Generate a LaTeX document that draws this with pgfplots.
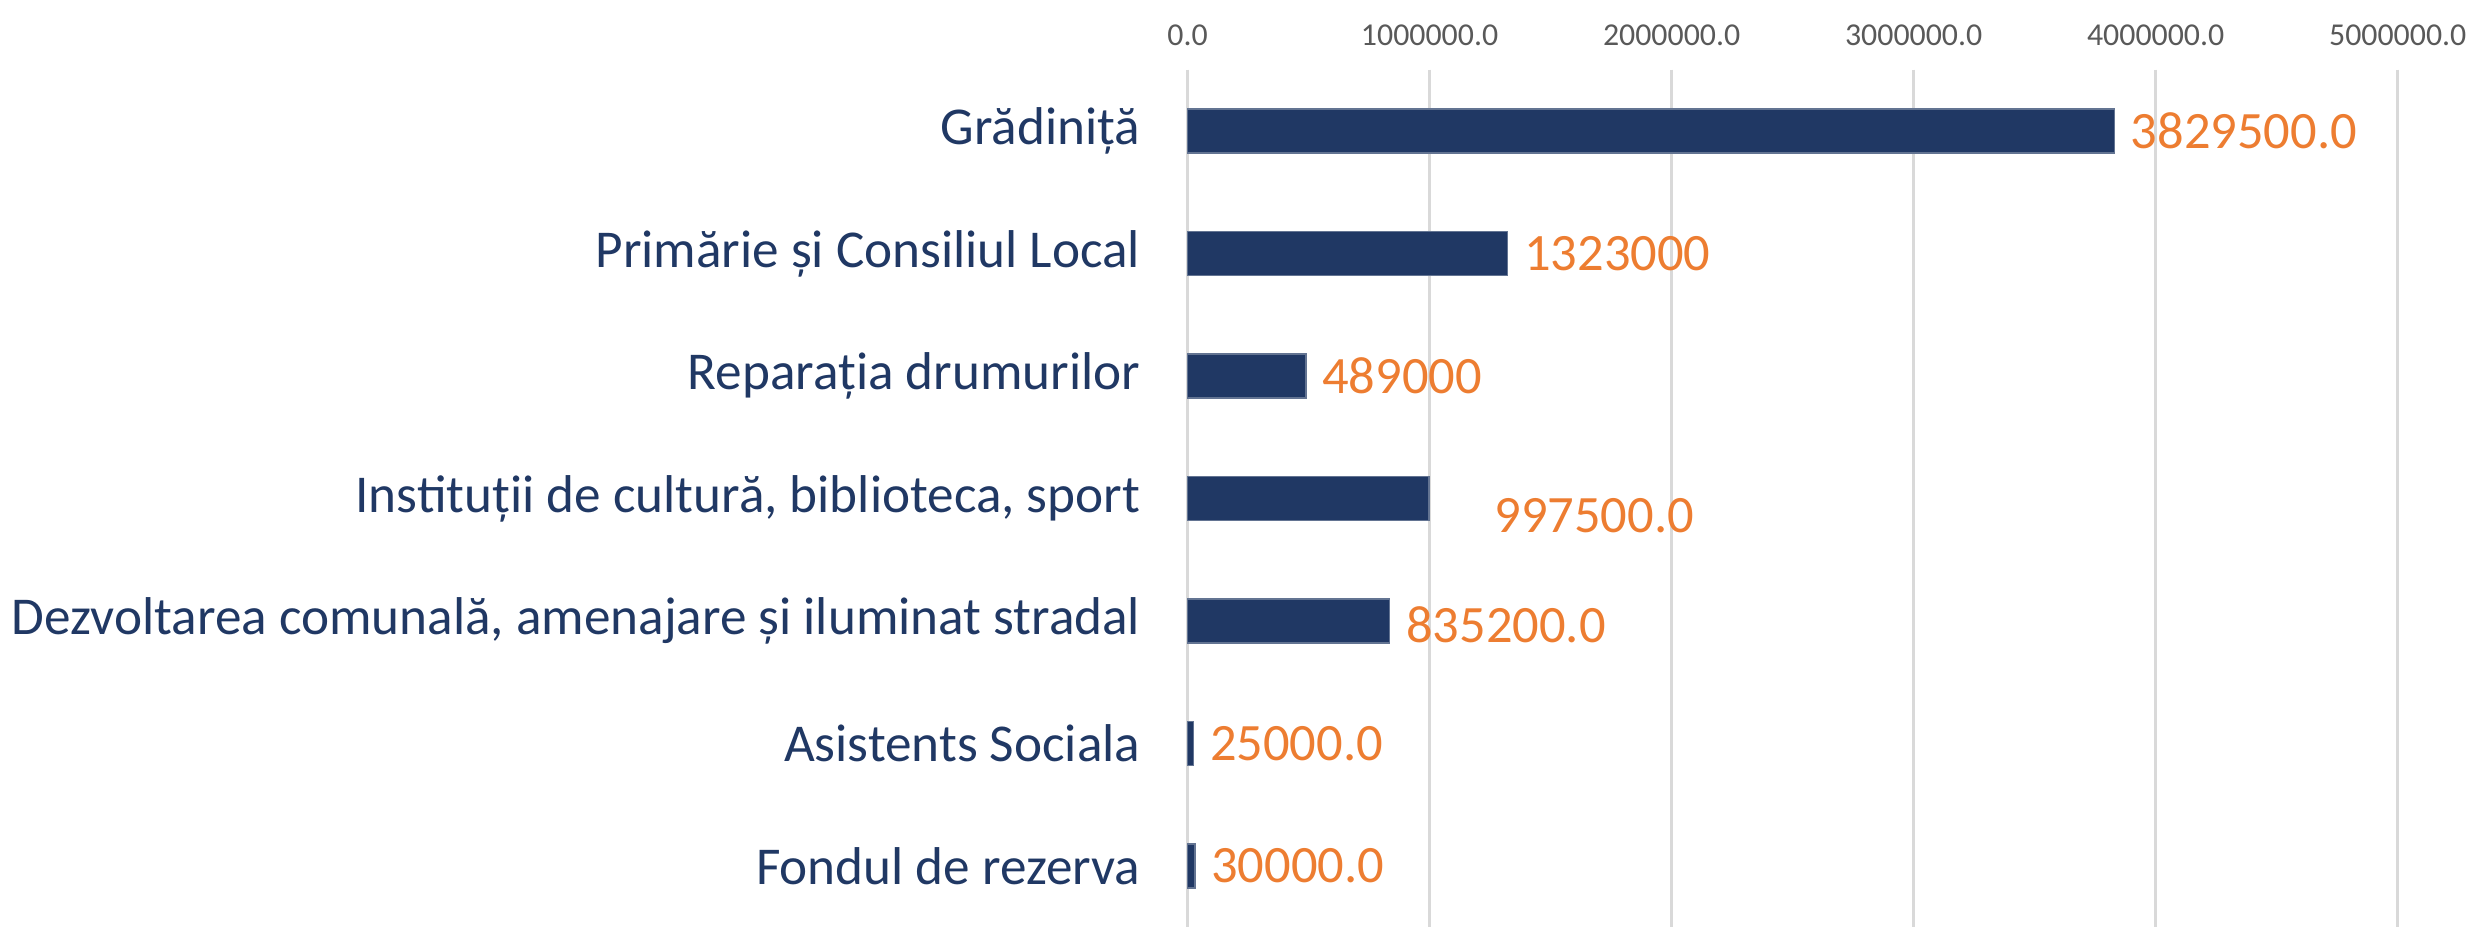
\documentclass[border=0pt]{standalone}
\usepackage{fontspec}
\setmainfont{Carlito}
\usepackage{pgfplots}
\usepackage{pgfplotstable}
\pgfplotsset{compat=1.18}
\definecolor{barnavy}{HTML}{203864}
\definecolor{lblorange}{HTML}{ED7D31}
\definecolor{tickgray}{HTML}{595959}
\definecolor{gridgray}{HTML}{D9D9D9}

% dx, dy in pt: manual label offsets as in the source chart
\pgfplotstableread{
y x lab dx dy
0 3829500 3829500.0 0 0
1 1323000 1323000 0 0
2 489000 489000 0 0
3 997500 997500.0 14 -5
4 835200 835200.0 0 -1
5 25000 25000.0 0 0
6 30000 30000.0 0 0
}\budget

\begin{document}
\begin{tikzpicture}
\begin{axis}[
  name=ax,
  scale only axis,
  width=12.15cm, height=8.61cm,
  xmin=0, xmax=5000000,
  ymin=-0.5, ymax=6.5,
  y dir=reverse,
  xbar, bar width=0.44cm,
  axis line style={draw=none},
  major tick style={draw=none},
  xmajorgrids, grid style={gridgray, line width=0.8pt},
  scaled x ticks=false,
  xtick={0,1000000,2000000,3000000,4000000,5000000},
  xticklabels={0.0,1000000.0,2000000.0,3000000.0,4000000.0,5000000.0},
  xticklabel pos=upper,
  xticklabel style={font=\fontsize{9.1}{11}\selectfont, text=tickgray, yshift=0.12cm},
  ytick={0,...,6},
  yticklabels={{Grădiniță}, {Primărie și Consiliul Local}, {Reparația drumurilor},
    {Instituții de cultură, biblioteca, sport},
    {Dezvoltarea comunală, amenajare și iluminat stradal},
    {Asistents Sociala}, {Fondul de rezerva}},
  yticklabel style={font=\fontsize{15.2}{18}\selectfont, text=barnavy},
  ytick pos=left,
  major tick length=0pt,
  yticklabel shift=0.35cm,
  /pgf/number format/assume math mode=true,
  point meta=explicit symbolic,
  nodes near coords,
  nodes near coords align={anchor=west},
  visualization depends on={\thisrow{dx}\as\dx},
  visualization depends on={\thisrow{dy}\as\dy},
  nodes near coords style={font=\fontsize{15}{18}\selectfont, text=lblorange,
    inner sep=4.5pt, xshift=\dx pt, yshift=\dy pt},
  clip=false,
]
  \addplot[fill=barnavy, draw=barnavy!70!white, line width=0.4pt]
    table[x=x, y=y, meta=lab] {\budget};
\end{axis}
\path ([yshift=0.70cm]ax.north east);
\end{tikzpicture}
\end{document}
